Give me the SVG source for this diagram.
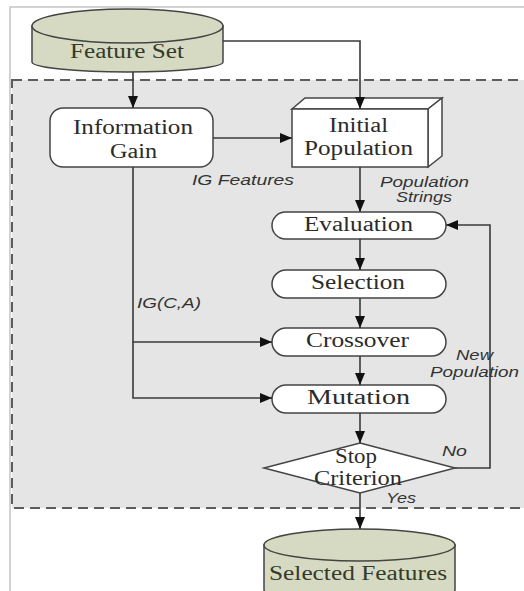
<svg xmlns="http://www.w3.org/2000/svg" width="524" height="591" viewBox="0 0 524 591">
<style>
.frame{fill:none;stroke:#c4c4c4;stroke-width:1.5}
.region{fill:#e5e5e5;stroke:#5c5c5c;stroke-width:2;stroke-dasharray:10 6}
.node{fill:#ffffff;stroke:#444;stroke-width:1.5}
.cyl{fill:#d7dac2;stroke:#444;stroke-width:1.5}
.edge{fill:none;stroke:#3a3a3a;stroke-width:1.6}
.t{font-family:"Liberation Serif","Times New Roman",serif;font-size:20px;fill:#2b2b2b}
.ct{font-family:"Liberation Serif","Times New Roman",serif;font-size:20px;fill:#353a2b}
.l{font-family:"Liberation Sans",Arial,sans-serif;font-size:14px;font-style:italic;fill:#333}
</style>
<defs>
<marker id="ah" markerUnits="userSpaceOnUse" markerWidth="13" markerHeight="11" refX="12" refY="5" orient="auto">
<path d="M0,0 L12,5 L0,10 Z" fill="#111"/>
</marker>
</defs>
<path class="frame" d="M10,591 L10,7 L524,7"/>
<rect class="region" x="12" y="80" width="520" height="428"/>

<g id="feature-set">
<path class="cyl" d="M32,26 L32,62 A95.5,10 0 0 0 223,62 L223,26 Z"/>
<ellipse class="cyl" cx="127.5" cy="26" rx="95.5" ry="17"/>
<text class="ct" x="70" y="58" textLength="114" lengthAdjust="spacingAndGlyphs">Feature Set</text>
</g>

<g id="information-gain">
<rect class="node" x="50" y="108" width="163" height="59" rx="13"/>
<text class="t" x="73" y="134" textLength="120" lengthAdjust="spacingAndGlyphs">Information</text>
<text class="t" x="110" y="158" textLength="47" lengthAdjust="spacingAndGlyphs">Gain</text>
</g>

<g id="initial-population">
<polygon class="node" points="292,109 305,98 442,98 428,109"/>
<polygon class="node" points="428,109 442,98 442,156 428,167"/>
<rect class="node" x="292" y="109" width="136" height="58"/>
<text class="t" x="329" y="132" textLength="59" lengthAdjust="spacingAndGlyphs">Initial</text>
<text class="t" x="304" y="155" textLength="109" lengthAdjust="spacingAndGlyphs">Population</text>
</g>

<g id="evaluation">
<rect class="node" x="272" y="212" width="174" height="27" rx="13.5"/>
<text class="t" x="304" y="231" textLength="109" lengthAdjust="spacingAndGlyphs">Evaluation</text>
</g>

<g id="selection">
<rect class="node" x="272" y="270" width="174" height="28" rx="14"/>
<text class="t" x="311" y="289" textLength="94" lengthAdjust="spacingAndGlyphs">Selection</text>
</g>

<g id="crossover">
<rect class="node" x="272" y="328" width="174" height="28" rx="14"/>
<text class="t" x="306" y="347" textLength="103" lengthAdjust="spacingAndGlyphs">Crossover</text>
</g>

<g id="mutation">
<rect class="node" x="272" y="385" width="174" height="28" rx="14"/>
<text class="t" x="307" y="404" textLength="103" lengthAdjust="spacingAndGlyphs">Mutation</text>
</g>

<g id="stop-criterion">
<polygon class="node" points="360,443 455,468 360,493 264,468"/>
<text class="t" x="335" y="463" textLength="42" lengthAdjust="spacingAndGlyphs">Stop</text>
<text class="t" x="314" y="485" textLength="88" lengthAdjust="spacingAndGlyphs">Criterion</text>
</g>

<g id="selected-features">
<path class="cyl" d="M264,545 L264,590 A95.5,10 0 0 0 455,590 L455,545 Z"/>
<ellipse class="cyl" cx="359.5" cy="545" rx="95.5" ry="16"/>
<text class="ct" x="269" y="580" textLength="178" lengthAdjust="spacingAndGlyphs">Selected Features</text>
</g>

<g id="connectors">
<path class="edge" d="M133,72 L133,108" marker-end="url(#ah)"/>
<path class="edge" d="M223,41 L360,41 L360,109" marker-end="url(#ah)"/>
<path class="edge" d="M213,138 L292,138" marker-end="url(#ah)"/>
<path class="edge" d="M360,167 L360,212" marker-end="url(#ah)"/>
<path class="edge" d="M360,239 L360,270" marker-end="url(#ah)"/>
<path class="edge" d="M360,298 L360,328" marker-end="url(#ah)"/>
<path class="edge" d="M360,356 L360,385" marker-end="url(#ah)"/>
<path class="edge" d="M360,413 L360,443" marker-end="url(#ah)"/>
<path class="edge" d="M360,493 L360,529" marker-end="url(#ah)"/>
<path class="edge" d="M133,167 L133,342 L272,342" marker-end="url(#ah)"/>
<path class="edge" d="M133,342 L133,398 L272,398" marker-end="url(#ah)"/>
<path class="edge" d="M455,468 L490,468 L490,225 L446,225" marker-end="url(#ah)"/>
<text class="l" x="192" y="185" textLength="102" lengthAdjust="spacingAndGlyphs">IG Features</text>
<text class="l" x="380" y="187" textLength="89" lengthAdjust="spacingAndGlyphs">Population</text>
<text class="l" x="396" y="202" textLength="56" lengthAdjust="spacingAndGlyphs">Strings</text>
<text class="l" x="137" y="308" textLength="64" lengthAdjust="spacingAndGlyphs">IG(C,A)</text>
<text class="l" x="456" y="360" textLength="37" lengthAdjust="spacingAndGlyphs">New</text>
<text class="l" x="430" y="377" textLength="89" lengthAdjust="spacingAndGlyphs">Population</text>
<text class="l" x="442" y="456" textLength="25" lengthAdjust="spacingAndGlyphs">No</text>
<text class="l" x="386" y="503" textLength="30" lengthAdjust="spacingAndGlyphs">Yes</text>
</g>
</svg>
